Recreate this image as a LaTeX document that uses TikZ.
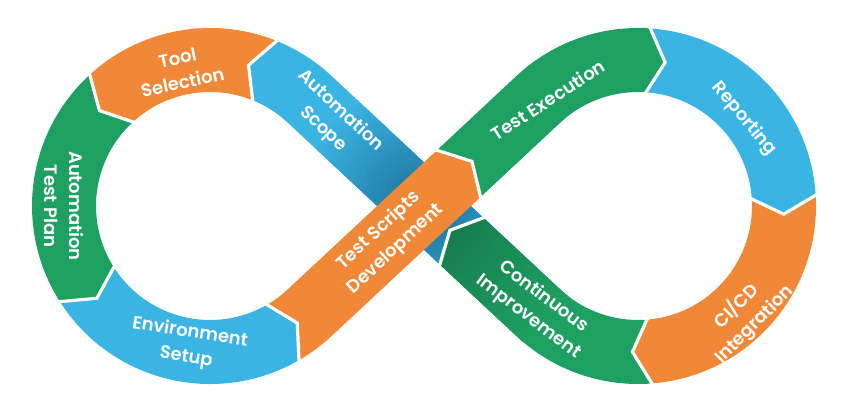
\documentclass[tikz,border=0pt]{standalone}
\usepackage{fontspec}
\setmainfont{Poppins}[BoldFont={Poppins SemiBold}]
\usetikzlibrary{calc}
\definecolor{cOr}{HTML}{F08838}
\definecolor{cBl}{HTML}{3AB4E2}
\definecolor{cGr}{HTML}{1EA062}
\definecolor{cBlD}{HTML}{1A6F98}
\definecolor{cGrD}{HTML}{137247}
\tikzset{
  lbl/.style={text=white, font=\fontsize{18}{25}\selectfont\bfseries, align=center, inner sep=0pt},
  gapline/.style={draw=white, line width=3.2pt, line cap=rect, line join=miter}
}
\begin{document}
\begin{tikzpicture}[x=1pt,y=-1pt]
\useasboundingbox (0,0) rectangle (846,413);
\coordinate (C1) at (210,206);
\coordinate (C2) at (638,206);
\coordinate (M) at (424,206);
\coordinate (T1) at ($(C1)+(-47:146)$);
\coordinate (T2) at ($(C1)+(47:146)$);
\coordinate (T3) at ($(C2)+(227:146)$);
\coordinate (T4) at ($(C2)+(133:146)$);
% segment outlines
\def\pAS{($(T4)+(223:105)+(133:32)$) -- ($(T1)+(133:32)$) arc[start angle=-47,end angle=-68,radius=114] -- ($(C1)+(-74.7:146)$) -- ($(C1)+(-68:178)$) arc[start angle=-68,end angle=-47,radius=178] -- ($(T4)+(223:105)+(-47:32)$) -- ($(T4)+(223:121)$) -- cycle}
\def\pTS{($(C1)+(-68:114)$) arc[start angle=-68,end angle=-132.5,radius=114] -- ($(C1)+(-139.2:146)$) -- ($(C1)+(-132.5:178)$) arc[start angle=-132.5,end angle=-68,radius=178] -- ($(C1)+(-74.7:146)$) -- cycle}
\def\pTP{($(C1)+(-132.5:114)$) arc[start angle=-132.5,end angle=-212.5,radius=114] -- ($(C1)+(-219.2:146)$) -- ($(C1)+(-212.5:178)$) arc[start angle=-212.5,end angle=-132.5,radius=178] -- ($(C1)+(-139.2:146)$) -- cycle}
\def\pES{($(C1)+(-212.5:114)$) arc[start angle=-212.5,end angle=-300,radius=114] -- ($(C1)+(-306.7:146)$) -- ($(C1)+(-300:178)$) arc[start angle=-300,end angle=-212.5,radius=178] -- ($(C1)+(-219.2:146)$) -- cycle}
\def\pTSD{($(C1)+(-300:114)$) arc[start angle=-300,end angle=-313,radius=114] -- ($(T2)+(-43:204)+(-133:32)$) -- ($(T2)+(-43:222)$) -- ($(T2)+(-43:204)+(47:32)$) -- ($(C1)+(47:178)$) arc[start angle=47,end angle=60,radius=178] -- ($(C1)+(53.3:146)$) -- cycle}
\def\pTE{($(T2)+(-43:204)+(-133:32)$) -- ($(C2)+(227:178)$) arc[start angle=227,end angle=274,radius=178] -- ($(C2)+(280.7:146)$) -- ($(C2)+(274:114)$) arc[start angle=274,end angle=227,radius=114] -- ($(T2)+(-43:204)+(47:32)$) -- ($(T2)+(-43:222)$) -- cycle}
\def\pR{($(C2)+(274:178)$) arc[start angle=274,end angle=356.5,radius=178] -- ($(C2)+(363.2:146)$) -- ($(C2)+(356.5:114)$) arc[start angle=356.5,end angle=274,radius=114] -- ($(C2)+(280.7:146)$) -- cycle}
\def\pCI{($(C2)+(356.5:178)$) arc[start angle=356.5,end angle=445.5,radius=178] -- ($(C2)+(452.2:146)$) -- ($(C2)+(445.5:114)$) arc[start angle=445.5,end angle=356.5,radius=114] -- ($(C2)+(363.2:146)$) -- cycle}
\def\pCIm{($(C2)+(445.5:178)$) arc[start angle=445.5,end angle=493,radius=178] -- ($(T4)+(223:105)+(133:32)$) -- ($(T4)+(223:121)$) -- ($(T4)+(223:105)+(-47:32)$) -- ($(C2)+(133:114)$) arc[start angle=133,end angle=85.5,radius=114] -- ($(C2)+(92.2:146)$) -- cycle}
% under strand with shadow
\fill[cBl] \pAS;
\begin{scope}
  \clip \pAS;
  \shade[inner color=cBlD, outer color=cBl] (M) circle (125);
\end{scope}
\fill[cGr] \pCIm;
\begin{scope}
  \clip \pCIm;
  \shade[inner color=cGrD, outer color=cGr] (M) circle (170);
\end{scope}
\fill[cOr] \pTS;
\fill[cGr] \pTP;
\fill[cBl] \pES;
\fill[cGr] \pTE;
\fill[cBl] \pR;
\fill[cOr] \pCI;
\fill[cOr] \pTSD;
% white gaps between segments
\draw[gapline] ($(T4)+(223:105)+(133:32)$) -- ($(T4)+(223:121)$) -- ($(T4)+(223:105)+(-47:32)$);
\draw[gapline] ($(C1)+(-68:114)$) -- ($(C1)+(-74.7:146)$) -- ($(C1)+(-68:178)$);
\draw[gapline] ($(C1)+(-132.5:114)$) -- ($(C1)+(-139.2:146)$) -- ($(C1)+(-132.5:178)$);
\draw[gapline] ($(C1)+(-212.5:114)$) -- ($(C1)+(-219.2:146)$) -- ($(C1)+(-212.5:178)$);
\draw[gapline] ($(C1)+(-300:114)$) -- ($(C1)+(-306.7:146)$) -- ($(C1)+(-300:178)$);
\draw[gapline] ($(T2)+(-43:204)+(-133:32)$) -- ($(T2)+(-43:222)$) -- ($(T2)+(-43:204)+(47:32)$);
\draw[gapline] ($(C2)+(274:114)$) -- ($(C2)+(280.7:146)$) -- ($(C2)+(274:178)$);
\draw[gapline] ($(C2)+(356.5:114)$) -- ($(C2)+(363.2:146)$) -- ($(C2)+(356.5:178)$);
\draw[gapline] ($(C2)+(445.5:114)$) -- ($(C2)+(452.2:146)$) -- ($(C2)+(445.5:178)$);
% labels
\node[lbl, rotate=12] (tTS) at (180,70) {Tool\\Selection};
\node[lbl, rotate=-43] (tAS) at (332,120) {Automation\\Scope};
\node[lbl, rotate=-90] (tTP) at (64,206) {Automation\\Test Plan};
\node[lbl, rotate=-9] (tES) at (188,345) {Environment\\Setup};
\node[lbl, rotate=43] (tTSD) at (387,240) {Test Scripts\\Development};
\node[lbl, rotate=33] (tTE) at (548,100) {Test Execution};
\node[lbl, rotate=-50] (tR) at (744,119) {Reporting};
\node[lbl, rotate=45] (tCI) at (745,315) {CI/CD\\Integration};
\node[lbl, rotate=-37] (tCIm) at (536,307) {Continuous\\Improvement};
\end{tikzpicture}
\end{document}
